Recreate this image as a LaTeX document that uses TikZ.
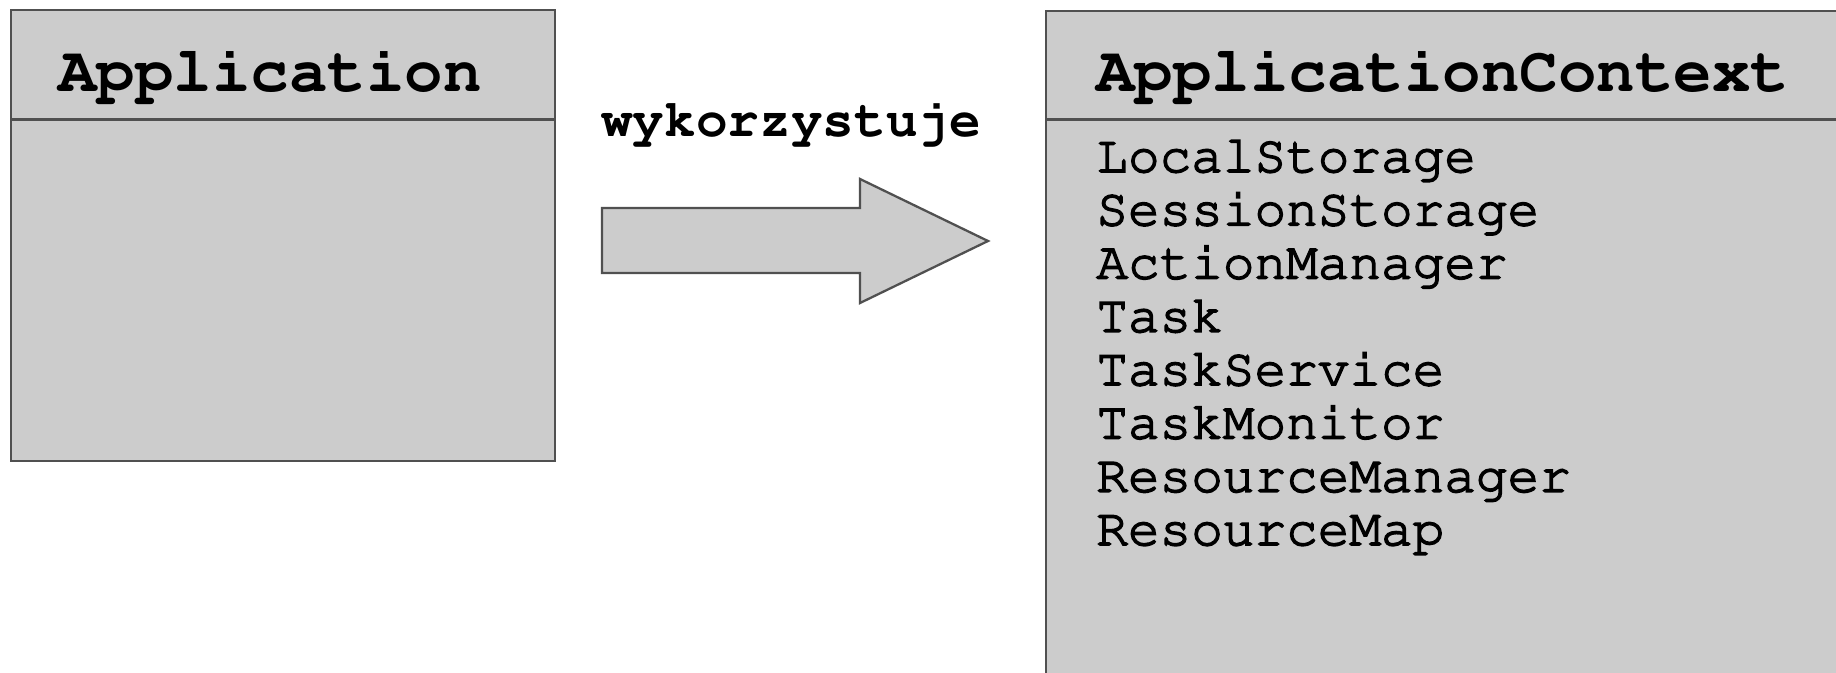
\documentclass[tikz,border=0pt]{standalone}
\usepackage[T1]{fontenc}
\usepackage{tikz}
\usetikzlibrary{positioning}

\definecolor{boxfill}{RGB}{204,204,204}
\definecolor{boxline}{RGB}{80,80,80}
\newcommand{\courfont}{\fontfamily{pcr}\selectfont}
\newcommand{\heavy}[1]{\special{pdf:literal direct 2 Tr 0.9 w 0 G}#1\special{pdf:literal direct 0 Tr}}

\tikzset{
    box/.style={draw=boxline, fill=boxfill, line width=1.6pt},
    header/.style={anchor=base west, inner sep=0pt, font=\courfont\bfseries\fontsize{36.5}{40}\selectfont},
    entry/.style={anchor=base west, inner sep=0pt, font=\courfont\fontsize{30}{30}\selectfont},
}

\begin{document}
\begin{tikzpicture}
    \path[use as bounding box, clip] (0,0) rectangle (36.72,13.44);
    \fill[white] (0,0) rectangle (36.72,13.44);
    % Application
    \draw[box] (0.22,4.22) rectangle (11.10,13.24);
    \draw[boxline, line width=1.6pt] (0.22,11.05) --(11.10,11.05);
    \node[header] (app) at (1.16,11.6) {Application};
    % ApplicationContext
    \draw[box] (20.92,-1) rectangle (38,13.22);
    \draw[boxline, line width=1.6pt] (20.92,11.05) --(38,11.05);
    \node[header] (ctx) at (21.92,11.6) {ApplicationContext};
    \foreach \name [count=\i from 0] in {LocalStorage,SessionStorage,ActionManager,Task,TaskService,TaskMonitor,ResourceManager,ResourceMap}
        \node[entry] (entry\i) at (21.92,10-1.066*\i) {\heavy{\name}};
    % wykorzystuje
    \draw[boxline, fill=boxfill, line width=1.3pt] (12.04,9.28) --(17.2,9.28) --(17.2,9.86) --(19.76,8.62) --(17.2,7.38) --(17.2,7.98) --(12.04,7.98) --cycle;
    \node[entry, font=\courfont\bfseries\fontsize{30}{30}\selectfont] (uses) at (12.02,10.70) {wykorzystuje};
\end{tikzpicture}
\end{document}
